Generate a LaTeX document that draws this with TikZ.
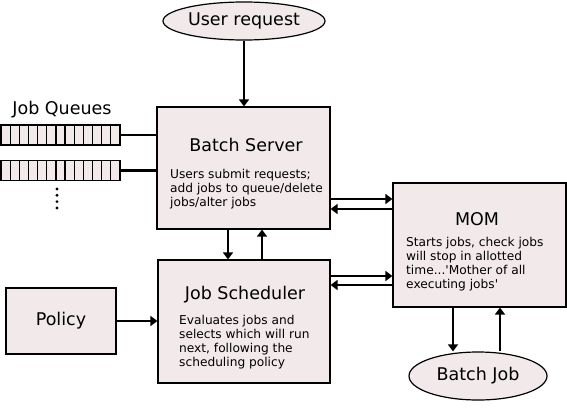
\documentclass[tikz,border=0pt]{standalone}
\usepackage{fontspec}
\setmainfont{DejaVu Sans}
\usetikzlibrary{arrows.meta,shapes.geometric}
\definecolor{boxfill}{RGB}{242,234,234}

\begin{document}
\begin{tikzpicture}[
  x=1pt,y=-1pt,
  line/.style={-{Triangle[length=7pt,width=10pt]},line width=2.5pt,draw=black},
  link/.style={line width=2.5pt,draw=black},
  block/.style={rectangle,draw=black,line width=1.2pt,fill=boxfill,inner sep=0pt},
  oval/.style={ellipse,draw=black,line width=1.2pt,fill=boxfill,inner sep=0pt,font=\fontsize{17.5}{21}\selectfont},
  title/.style={font=\fontsize{17.5}{21}\selectfont,inner sep=0pt},
  body/.style={font=\fontsize{12.2}{14}\selectfont,align=left,anchor=west,inner sep=0pt},
  queue/.style={rectangle,draw=black,line width=1.4pt,fill=boxfill,minimum width=119pt,minimum height=20pt,inner sep=0pt}
]
\useasboundingbox (0,0) rectangle (567,412);

% Main blocks
\node[oval,minimum width=162pt,minimum height=38pt] (ureq) at (244,21) {User request};
\node[block,minimum width=173pt,minimum height=122pt] (bs) at (243.5,168) {};
\node[block,minimum width=172pt,minimum height=123pt] (js) at (244,321.5) {};
\node[block,minimum width=173pt,minimum height=124pt] (mom) at (479.5,245) {};
\node[block,minimum width=110pt,minimum height=66pt,font=\fontsize{17.5}{21}\selectfont] (pol) at (61,321) {Policy};
\node[oval,minimum width=138pt,minimum height=48pt] (bjob) at (478,376) {Batch Job};

% Titles and descriptions
\node[title] (bsTitle) at (246,145) {Batch Server};
\node[body] (bsText) at (170,189) {Users submit requests;\\add jobs to queue/delete\\jobs/alter jobs};
\node[title] (jsTitle) at (245,295) {Job Scheduler};
\node[body] (jsText) at (179,342) {Evaluates jobs and\\selects which will run\\next, following the\\scheduling policy};
\node[title] (momTitle) at (477,219) {MOM};
\node[body] (momText) at (406,264) {Starts jobs, check jobs\\will stop in allotted\\time...\textquotesingle Mother of all\\executing jobs\textquotesingle};

% Job queues
\node[title] (qlabel) at (62,110) {Job Queues};
\node[queue] (q1) at (60.5,135) {};
\node[queue] (q2) at (60.5,170.5) {};
\foreach \i in {1,...,12} {
  \draw[line width=1.2pt] (1+\i*9.154,125) -- ++(0,20);
  \draw[line width=1.2pt] (1+\i*9.154,160.5) -- ++(0,20);
}
\foreach \y in {189,195.3,201.6,207.9}
  \fill (57,\y) circle (1.6);
\draw[link] (q1.east) -- (q1.east -| bs.west);
\draw[link] (q2.east) -- (q2.east -| bs.west);

% Connectors
\draw[line] (ureq) -- (ureq |- bs.north);
\draw[line] ([yshift=-31pt]bs.east) -- ([yshift=-31pt]bs.east -| mom.west);
\draw[line] ([yshift=-41pt]bs.east -| mom.west) -- ([yshift=-41pt]bs.east);
\draw[line] ([xshift=-15.5pt]bs.south) -- ([xshift=-15.5pt]bs.south |- js.north);
\draw[line] ([xshift=18.5pt]bs.south |- js.north) -- ([xshift=18.5pt]bs.south);
\draw[line] ([yshift=45.5pt]js.east) -- ([yshift=45.5pt]js.east -| mom.west);
\draw[line] ([yshift=36.5pt]js.east -| mom.west) -- ([yshift=36.5pt]js.east);
\draw[line] (pol.east) -- (pol.east -| js.west);
\draw[line] ([xshift=-26.5pt]mom.south) -- ([xshift=-26.5pt]mom.south |- bjob.north);
\draw[line] ([xshift=20.5pt]mom.south |- bjob.north) -- ([xshift=20.5pt]mom.south);

\end{tikzpicture}
\end{document}
